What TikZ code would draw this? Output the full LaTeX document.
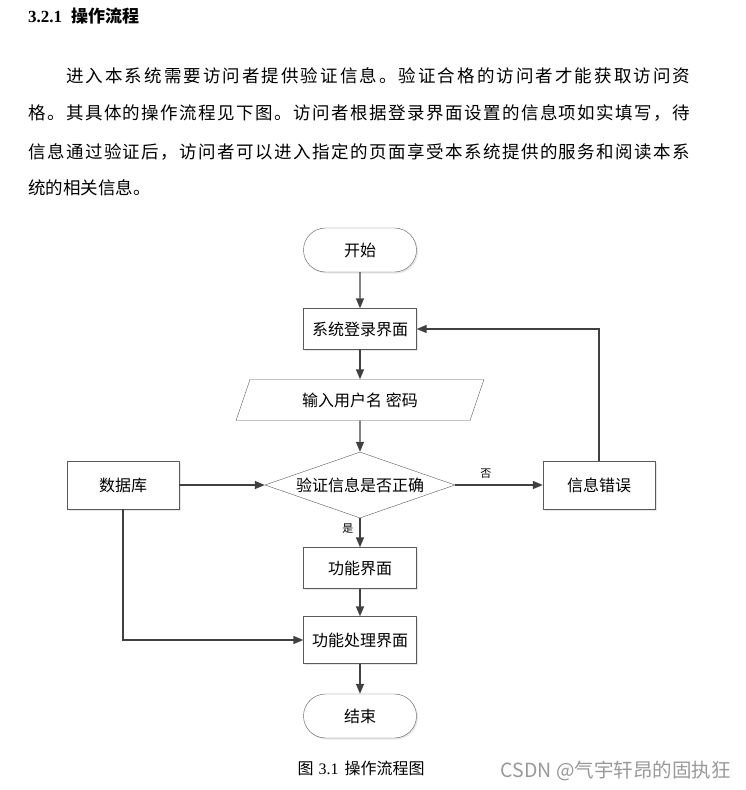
\documentclass[tikz,border=0pt]{standalone}
\usepackage{fontspec}
\setmainfont{Liberation Serif}
\newfontfamily\cjk{Noto Sans CJK SC}
\usetikzlibrary{shapes.geometric,shapes.misc,arrows.meta,shadows}
\definecolor{linegray}{HTML}{404040}
\definecolor{boxgray}{HTML}{5A5A5A}
\def\spreadA#1{#1\spreadB}
\def\spreadB#1{\ifx#1\relax\else\hskip 0pt plus 1fil #1\expandafter\spreadB\fi}
\newcommand\spreadline[2]{\makebox[#1][s]{\spreadA#2\relax}}

\begin{document}
\begin{tikzpicture}[
   x=1pt,y=-1pt,
   font=\cjk\fontsize{16}{19}\selectfont,
   para/.style={anchor=west,inner sep=0pt,font=\cjk\fontsize{17.5}{20}\selectfont},
   state/.style={draw=boxgray,fill=white,inner sep=0pt,minimum width=113pt,minimum height=41pt,
      drop shadow={shadow xshift=1.5pt,shadow yshift=-1.5pt,fill=black!18}},
   term/.style={state,rounded rectangle,minimum height=44pt},
   io/.style={trapezium,trapezium left angle=64,trapezium right angle=116,trapezium stretches=true,
      draw=boxgray,fill=white,inner sep=0pt,minimum width=248pt,minimum height=41pt},
   test/.style={diamond,aspect=2.9,draw=boxgray,fill=white,inner sep=0pt,minimum width=190pt,minimum height=66pt},
   link/.style={-{Triangle[length=10pt,width=8pt]},draw=linegray,line width=1.4pt},
   lab/.style={font=\cjk\fontsize{11}{13}\selectfont,inner sep=2pt}]
\fill[white] (0,0) rectangle (746,790);
\useasboundingbox (0,0) rectangle (746,790);
\node[anchor=west,inner sep=0pt] (title) at (28,16) {\rmfamily\bfseries\fontsize{17}{19}\selectfont 3.2.1\hspace{9pt}{\cjk\bfseries 操作流程}};
\node[para] (p1) at (66,76) {\spreadline{624pt}{进入本系统需要访问者提供验证信息。验证合格的访问者才能获取访问资}};
\node[para] (p2) at (28,113) {\spreadline{662pt}{格。其具体的操作流程见下图。访问者根据登录界面设置的信息项如实填写，待}};
\node[para] (p3) at (28,152) {\spreadline{662pt}{信息通过验证后，访问者可以进入指定的页面享受本系统提供的服务和阅读本系}};
\node[para] (p4) at (28,188) {统的相关信息。};
\node[term] (start) at (360,250) {开始};
\node[state] (login) at (360,329) {系统登录界面};
\node[io] (input) at (360,400) {输入用户名 密码};
\node[test] (check) at (360,485) {验证信息是否正确};
\node[state,minimum width=112pt,minimum height=48pt] (db) at (123,485) {数据库};
\node[state,minimum width=112pt,minimum height=48pt] (err) at (599,485) {信息错误};
\node[state] (func) at (360,568) {功能界面};
\node[state,minimum height=47pt] (proc) at (360,640) {功能处理界面};
\node[term] (stop) at (360,716) {结束};
\draw[link] (start) -- (login);
\draw[link] (login) -- (input);
\draw[link] (input) -- (check);
\draw[link] (db) -- (check);
\draw[link] (check) -- node[lab,above,pos=0.35,yshift=4pt] {否} (err);
\draw[link] (err.north) |- (login.east);
\draw[link] (check) -- node[lab,left,pos=0.35,xshift=-4pt] {是} (func);
\draw[link] (func) -- (proc);
\draw[link] (db.south) |- (proc.west);
\draw[link] (proc) -- (stop);
\node[inner sep=0pt] (cap) at (361,768) {\fontsize{16}{19}\selectfont{\cjk 图}\hspace{5pt}{\rmfamily 3.1}\hspace{6pt}{\cjk 操作流程图}};
\node[anchor=east,inner sep=0pt,text=black!40,font=\cjk\fontsize{19.5}{22}\selectfont] (mark) at (731,771) {CSDN @气宇轩昂的固执狂};
\end{tikzpicture}
\end{document}
